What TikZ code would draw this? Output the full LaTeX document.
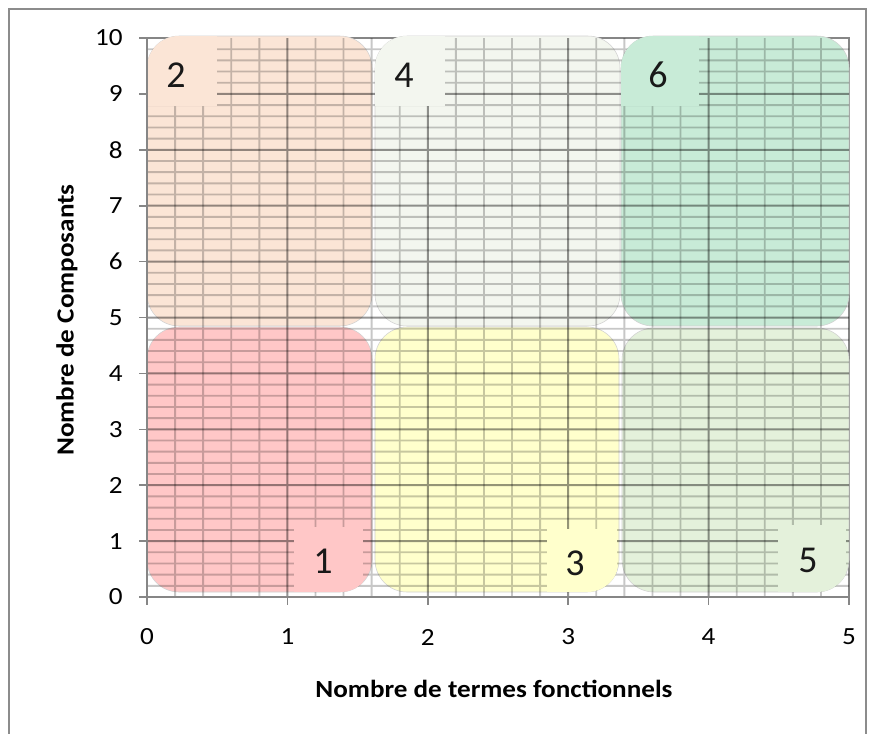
\documentclass[tikz,border=0pt]{standalone}
\usepackage{fontspec}
\setmainfont{Carlito}
\definecolor{cPeach}{RGB}{251,229,214}
\definecolor{cPink}{RGB}{255,199,199}
\definecolor{cPale}{RGB}{243,246,239}
\definecolor{cYellow}{RGB}{255,255,204}
\definecolor{cGreenA}{RGB}{200,235,215}
\definecolor{cGreenB}{RGB}{228,241,219}
\definecolor{axisgrey}{RGB}{134,134,134}
\newcommand{\wide}[1]{\scalebox{1.1}[1]{#1}}
\begin{document}
\begin{tikzpicture}[x=0.75pt,y=-0.75pt,
  zone/.style={draw=black!18, line width=0.4pt, rounded corners=24},
  ticklab/.style={font=\fontsize{18.5}{18.5}\selectfont, inner sep=0pt},
  numlab/.style={font=\fontsize{28.5}{28.5}\selectfont, inner sep=0pt},
  axtitle/.style={font=\bfseries\fontsize{18.5}{18.5}\selectfont, inner sep=0pt},
  axisline/.style={draw=axisgrey, line width=1.2pt},
  minorgrid/.style={draw=black, line width=1.4pt},
  majorgrid/.style={draw=black, line width=1.5pt}]
\useasboundingbox (0,0) rectangle (870,733);
\fill[white] (0,0) rectangle (870,733);
% outer frame
\draw[black!45, line width=1.3pt] (9,735) -- (9,9) -- (866,9) -- (866,735);
% plot area border
\draw[axisline] (147,38) -- (849,38) -- (849,597);
% zones
\fill[cPeach, zone] (147,36) rectangle (372,326);
\fill[cPink, zone] (147,327) rectangle (372,592);
\fill[cPale, zone] (375,36) rectangle (620,326);
\fill[cYellow, zone] (375,327) rectangle (619,592);
\fill[cGreenA, zone] (621,36) rectangle (849,326);
\fill[cGreenB, zone] (622,328) rectangle (849,592);
% minor grid
\begin{scope}[transparency group, opacity=0.22]
\foreach \k in {1,...,24}{%
  \ifnum\numexpr\k-5*(\k/5)\relax=0 \else
    \draw[minorgrid] ({147+\k*28.08},38) -- ({147+\k*28.08},597);
  \fi}
\foreach \j in {1,...,49}{%
  \ifnum\numexpr\j-5*(\j/5)\relax=0 \else
    \draw[minorgrid] (147,{597-\j*11.18}) -- (849,{597-\j*11.18});
  \fi}
\end{scope}
% major grid
\begin{scope}[transparency group, opacity=0.42]
\foreach \k in {1,...,4}{%
  \draw[majorgrid] ({147+\k*140.4},38) -- ({147+\k*140.4},597);}
\foreach \j in {1,...,9}{%
  \draw[majorgrid] (147,{597-\j*55.9}) -- (849,{597-\j*55.9});}
\end{scope}
% label boxes
\begin{scope}
\clip[rounded corners=24] (147,36) rectangle (372,326);
\fill[cPeach] (147,36) rectangle (217,106);
\end{scope}
\begin{scope}
\clip[rounded corners=24] (375,36) rectangle (620,326);
\fill[cPale] (375,36) rectangle (445,106);
\end{scope}
\begin{scope}
\clip[rounded corners=24] (621,36) rectangle (849,326);
\fill[cGreenA] (621,36) rectangle (699,106);
\end{scope}
\begin{scope}
\clip[rounded corners=24] (147,327) rectangle (372,592);
\fill[cPink] (294,527) rectangle (363,592);
\end{scope}
\begin{scope}
\clip[rounded corners=24] (375,327) rectangle (619,592);
\fill[cYellow] (547,529) rectangle (617,592);
\end{scope}
\begin{scope}
\clip[rounded corners=24] (622,328) rectangle (849,592);
\fill[cGreenB] (778,525) rectangle (846,592);
\end{scope}
% numbers
\node[numlab, text=black!90] (n2) at (176,75) {2};
\node[numlab, text=black!90] (n4) at (404,75) {4};
\node[numlab, text=black!90] (n6) at (658,75) {6};
\node[numlab, text=black!90] (n1) at (323,561) {1};
\node[numlab, text=black!90] (n3) at (575,563) {3};
\node[numlab, text=black!90] (n5) at (808,560) {5};
% axes
\draw[axisline] (147,38) -- (147,597) -- (849,597);
\foreach \i in {0,...,10}{%
  \draw[axisline] (139,{597-\i*55.9}) -- (147,{597-\i*55.9});
  \node[ticklab, anchor=east] (yl\i) at (123,{597-\i*55.9}) {\wide{\i}};}
\foreach \i in {0,...,5}{%
  \draw[axisline] ({147+\i*140.4},597) -- ({147+\i*140.4},605);
  \node[ticklab] (xl\i) at ({147+\i*140.4},637) {\wide{\i}};}
% titles
\node[axtitle, rotate=90] (ytitle) at (67,320) {\wide{Nombre de Composants}};
\node[axtitle] (xtitle) at (494,689) {\wide{Nombre de termes fonctionnels}};
\end{tikzpicture}
\end{document}
